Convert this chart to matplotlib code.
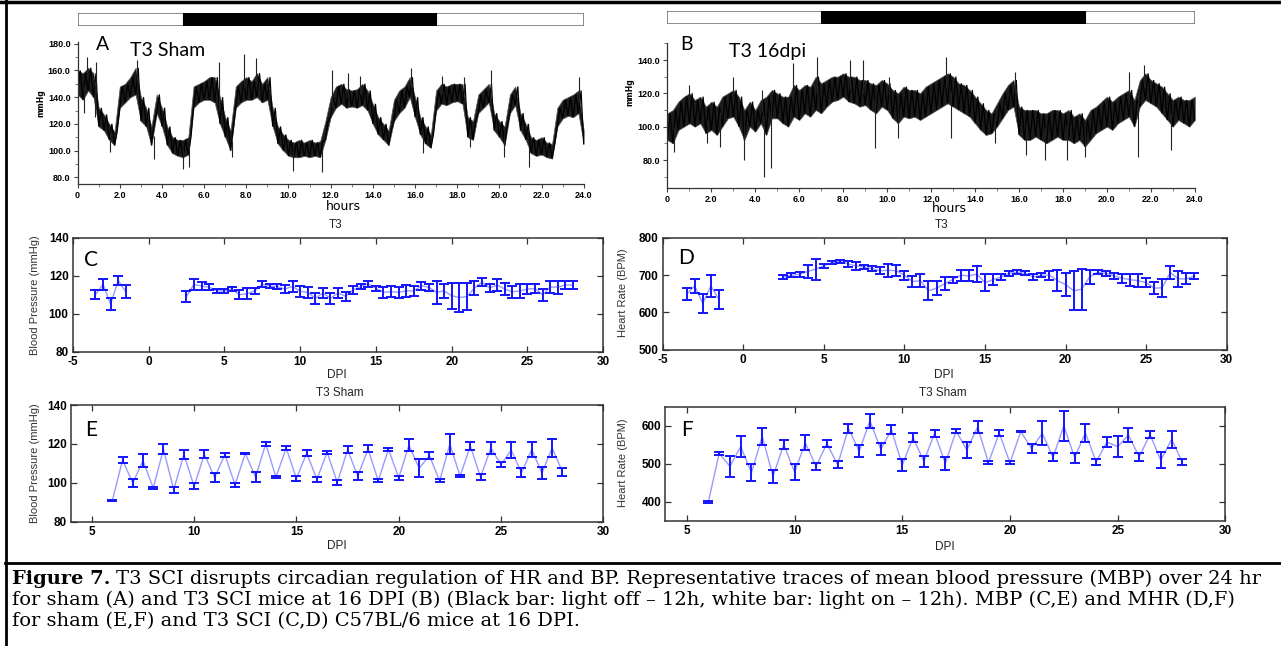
import numpy as np
import matplotlib
matplotlib.use('Agg')
import matplotlib.pyplot as plt
from matplotlib.patches import Rectangle
from matplotlib.lines import Line2D
from matplotlib.ticker import MultipleLocator

W, H = 1281, 646

# %%
# 24 h mean blood pressure traces, read off in 0.25 h bins (band low / high)
hours = [i * 0.25 for i in range(97)]

a_lo = [142, 138, 145, 140, 118, 115, 108, 104, 132, 136, 140, 142, 122, 118, 104, 128,
        118, 104, 98, 96, 95, 97, 132, 136, 138, 138, 136, 120, 110, 100, 132, 136,
        138, 138, 140, 136, 138, 118, 105, 100, 96, 95, 95, 96, 95, 96, 95, 108,
        125, 132, 135, 132, 133, 132, 134, 130, 120, 112, 108, 104, 122, 128, 132, 140,
        125, 112, 105, 102, 130, 135, 134, 136, 137, 135, 110, 108, 128, 132, 136, 115,
        110, 104, 128, 134, 115, 108, 98, 96, 97, 95, 94, 118, 124, 126, 125, 128, 105]
a_hi = [160, 158, 162, 158, 132, 127, 120, 114, 148, 150, 155, 162, 140, 132, 118, 142,
        132, 118, 110, 108, 108, 110, 148, 150, 152, 155, 155, 140, 125, 115, 148, 152,
        155, 152, 158, 150, 155, 132, 118, 112, 108, 106, 108, 106, 108, 106, 107, 122,
        140, 148, 150, 146, 145, 146, 150, 145, 135, 125, 120, 115, 138, 145, 148, 155,
        140, 125, 118, 112, 145, 150, 148, 150, 150, 150, 125, 122, 142, 146, 150, 128,
        122, 118, 142, 148, 128, 120, 110, 108, 110, 106, 105, 132, 138, 140, 142, 145, 115]
a_spike_t = [0.3, 0.43, 0.83, 0.85, 1.55, 2.8, 3.6, 5.0, 5.3, 6.7, 7.3, 7.9, 8.45, 10.2,
             11.6, 12.05, 12.8, 13.4, 15.8, 16.4, 17.3, 18.3, 18.6, 19.6, 20.2, 21.4, 23.8]
a_spike_v = [128, 170, 125, 166, 99, 168, 94, 86, 88, 166, 95, 172, 169, 85,
             84, 160, 158, 156, 162, 98, 156, 155, 103, 160, 95, 88, 155]

b_lo = [92, 90, 98, 100, 102, 100, 102, 96, 98, 95, 100, 105, 106, 100, 92, 100,
        97, 102, 95, 105, 105, 102, 100, 106, 104, 108, 106, 110, 108, 112, 115, 116,
        118, 115, 114, 112, 113, 110, 108, 112, 110, 105, 102, 106, 105, 106, 104, 106,
        108, 110, 112, 114, 112, 110, 108, 106, 102, 98, 95, 96, 100, 105, 110, 112,
        95, 92, 92, 94, 92, 90, 92, 94, 92, 92, 90, 92, 88, 92, 96, 98,
        100, 98, 102, 104, 106, 100, 112, 116, 114, 112, 108, 104, 100, 104, 102, 100, 104]
b_hi = [108, 110, 115, 118, 120, 116, 118, 112, 115, 112, 118, 120, 122, 118, 110, 115,
        110, 116, 118, 122, 120, 118, 118, 125, 122, 125, 124, 130, 126, 128, 130, 130,
        132, 130, 130, 128, 128, 126, 125, 128, 126, 122, 120, 124, 122, 122, 120, 124,
        126, 128, 130, 132, 130, 126, 125, 122, 118, 114, 110, 108, 114, 120, 125, 128,
        112, 110, 110, 110, 108, 108, 110, 110, 108, 110, 106, 108, 104, 110, 112, 115,
        118, 115, 118, 120, 122, 116, 128, 132, 128, 126, 124, 120, 116, 118, 116, 116, 118]
b_spike_t = [0.3, 1.0, 1.8, 2.4, 3.0, 3.5, 4.3, 4.4, 4.7, 5.7, 6.8, 8.3, 8.9, 9.45,
             10.1, 10.5, 12.7, 12.9, 14.9, 15.8, 16.3, 17.2, 18.2, 19.0, 21.0, 21.4, 21.7, 22.9]
b_spike_v = [85, 125, 90, 88, 130, 80, 122, 70, 75, 138, 142, 140, 140, 87,
             130, 93, 142, 93, 90, 133, 83, 80, 80, 82, 133, 82, 137, 86]

# %%
# Daily means +/- error, by days post injury
pre_dpi = [-3.5, -3.0, -2.5, -2.0, -1.5]
post_dpi = [2.5, 3.0, 3.5, 4.0, 4.5, 5.0, 5.5, 6.0, 6.5, 7.0, 7.5, 8.0, 8.5, 9.0,
            9.5, 10.0, 10.5, 11.0, 11.5, 12.0, 12.5, 13.0, 13.5, 14.0, 14.5, 15.0,
            15.5, 16.0, 16.5, 17.0, 17.5, 18.0, 18.5, 19.0, 19.5, 20.0, 20.5, 21.0,
            21.5, 22.0, 22.5, 23.0, 23.5, 24.0, 24.5, 25.0, 25.5, 26.0, 26.5, 27.0,
            27.5, 28.0]
sham_dpi = [6.0, 6.5, 7.0, 7.5, 8.0, 8.5, 9.0, 9.5, 10.0, 10.5, 11.0, 11.5, 12.0,
            12.5, 13.0, 13.5, 14.0, 14.5, 15.0, 15.5, 16.0, 16.5, 17.0, 17.5, 18.0,
            18.5, 19.0, 19.5, 20.0, 20.5, 21.0, 21.5, 22.0, 22.5, 23.0, 23.5, 24.0,
            24.5, 25.0, 25.5, 26.0, 26.5, 27.0, 27.5, 28.0]

c_pre = [110, 115.5, 105, 117.5, 111.5]
c_pre_err = [2.5, 3, 3, 2.5, 3.5]
c_post = [109, 115.5, 114.5, 114, 112, 112, 113, 110, 110.5, 112,
          115.5, 114.5, 114.4, 112.9, 114.4, 111.8, 111.2, 108.1, 110.9, 108.1,
          110.9, 109.2, 112.6, 114.4, 115.7, 113.3, 111.3, 111.6, 111.3, 112,
          112, 114.7, 113.9, 111.2, 112, 109.5, 108.5, 109, 113.5, 116.6,
          113.6, 115, 113, 111.5, 112, 113, 113.2, 109.9, 114, 114, 115.1, 115]
c_post_err = [3, 3, 2, 1.5, 1, 1, 1.3, 2.5, 3, 1.7,
              1.7, 1.2, 1.3, 2.2, 2.8, 2.8, 3, 3, 2.8, 3,
              2.8, 2.4, 2, 1.3, 1.5, 1.3, 2.8, 3, 2.8, 3,
              2.6, 2.2, 1.8, 6, 3.5, 6.8, 7.5, 7.3, 3.5, 2,
              2, 3, 2.9, 3, 3.8, 2.5, 2.4, 3, 3.2, 3.4, 2.1, 2.1]

d_pre = [649, 671, 624, 671, 635]
d_pre_err = [16, 20, 25, 29, 25]
d_post = [695, 700, 702, 710, 716, 725, 733, 737, 730, 725,
          722, 718, 712, 713, 712, 700, 683, 685, 658, 665,
          677, 688, 700, 698, 703, 680, 688, 695, 705, 708,
          705, 695, 700, 700, 685, 675, 658, 662, 695, 708,
          705, 698, 692, 688, 685, 680, 665, 666, 707, 690, 690, 698]
d_post_err = [5, 6, 6, 18, 28, 6, 4, 4, 8, 10,
              6, 8, 10, 18, 15, 12, 16, 18, 25, 18,
              18, 8, 15, 15, 22, 22, 15, 8, 6, 5,
              5, 8, 5, 12, 28, 32, 52, 55, 18, 6,
              6, 8, 12, 16, 18, 12, 16, 24, 17, 22, 15, 8]

e_bp = [90.8, 111.7, 99.9, 111.4, 97.3, 117.3, 96.5, 114.5, 98.2, 114.7,
        102.7, 114.5, 99, 115.1, 103, 120, 102.9, 117.9, 102.2, 115.3,
        101.8, 115.7, 100.1, 117, 103.4, 117.4, 101, 117.3, 102.5, 119.4,
        107.4, 114, 101, 119.9, 103.4, 118.9, 102.9, 117.9, 109.4, 116.8,
        105.1, 117.1, 105, 117.9, 105.7]
e_err = [0.3, 1.7, 1.9, 3.4, 0.7, 2.5, 1.5, 2.3, 1.5, 2.1,
         2.5, 1, 1, 0.4, 2.7, 1, 0.6, 1, 1.3, 1.4,
         1.4, 0.9, 1.3, 1.9, 2, 1.8, 0.8, 0.8, 1, 2.9,
         4.6, 2, 0.7, 5.1, 0.6, 2.1, 1.5, 3.1, 1.5, 4.2,
         2.3, 3.9, 2.9, 4.4, 2.1]

f_hr = [400, 527, 493, 545, 476, 572, 467, 550, 478, 555,
        493, 553, 497, 593, 533, 613, 538, 589, 496, 569,
        506, 580, 501, 586, 536, 597, 502, 581, 502, 585,
        540, 580, 517, 600, 516, 581, 505, 557, 545, 575,
        518, 577, 509, 564, 504]
f_err = [3, 5, 28, 27, 22, 22, 17, 12, 20, 20,
         9, 9, 9, 11, 15, 18, 16, 12, 16, 12,
         15, 9, 17, 6, 22, 15, 4, 8, 4, 2,
         12, 32, 11, 40, 13, 24, 8, 13, 27, 18,
         11, 9, 21, 22, 8]

caption = [
    "T3 SCI disrupts circadian regulation of HR and BP. Representative traces of mean blood pressure (MBP) over 24 hr",
    "for sham (A) and T3 SCI mice at 16 DPI (B) (Black bar: light off \u2013 12h, white bar: light on \u2013 12h). MBP (C,E) and MHR (D,F)",
    "for sham (E,F) and T3 SCI (C,D) C57BL/6 mice at 16 DPI.",
]

# %%
fig = plt.figure(figsize=(W / 100, H / 100), dpi=100)


def add_ax(left, top, right, bottom):
    """Axes from pixel edges of the reference picture."""
    return fig.add_axes([left / W, 1 - bottom / H, (right - left) / W, (bottom - top) / H])


def ftext(x, y, s, **kw):
    return fig.text(x / W, 1 - y / H, s, **kw)


tick_font = dict(family='Liberation Sans', weight='bold')


def trace_panel(ax, lo, hi, spike_t, spike_v, ylim, yticks):
    # dark band between the low and high readings, with a zigzag through each bin
    t = np.array(hours)
    ax.fill_between(t, lo, hi, color='#1c1c1c', lw=0.5, ec='#555555')
    t2 = np.column_stack([t, t + 0.125]).ravel()[:-1]
    y2 = np.column_stack([lo, hi]).ravel()[:-1]
    ax.plot(t2, y2, color='black', lw=0.9, solid_joinstyle='miter')
    idx = np.rint(np.array(spike_t) / 0.25).astype(int)
    base = (np.array(lo)[idx] + np.array(hi)[idx]) / 2
    ax.vlines(spike_t, base, spike_v, color='#222222', lw=0.8)
    ax.set_xlim(0, 24)
    ax.set_ylim(*ylim)
    ax.set_xticks(range(0, 25, 2))
    ax.set_xticklabels(['0'] + [f'{v:.1f}' for v in range(2, 25, 2)], fontsize=6.5, **tick_font)
    ax.set_yticks(yticks)
    ax.set_yticklabels([f'{v:.1f}' for v in yticks], fontsize=6.5, **tick_font)
    ax.xaxis.set_minor_locator(MultipleLocator(1))
    ax.yaxis.set_minor_locator(MultipleLocator(10))
    ax.tick_params(which='major', length=3, width=0.8, pad=2, color='#444444')
    ax.tick_params(which='minor', length=2, width=0.6, color='#666666')
    for s in ('top', 'right'):
        ax.spines[s].set_visible(False)
    for s in ('left', 'bottom'):
        ax.spines[s].set_color('#333333')
        ax.spines[s].set_linewidth(0.9)


def light_bar(left, top, right, bottom, dark_on, dark_off):
    ax = add_ax(left, top, right, bottom)
    ax.set_xlim(0, 24)
    ax.set_ylim(0, 1)
    ax.add_patch(Rectangle((0, 0), 24, 1, fc='white', ec='#777777', lw=1.2))
    ax.add_patch(Rectangle((dark_on, 0), dark_off - dark_on, 1, fc='black', ec='black', lw=0.8))
    ax.axis('off')


def dpi_panel(ax, xlim, xticks, ylim, yticks):
    ax.set_xlim(*xlim)
    ax.set_ylim(*ylim)
    ax.set_xticks(xticks)
    ax.set_yticks(yticks)
    ax.set_xticklabels([str(v) for v in xticks], fontsize=8.5, **tick_font)
    ax.set_yticklabels([str(v) for v in yticks], fontsize=8.5, **tick_font)
    ax.tick_params(direction='in', top=True, right=True, length=4, width=0.9,
                   pad=3, color='#333333')
    for s in ax.spines.values():
        s.set_color('#333333')
        s.set_linewidth(1.1)


def bars(ax, x, y, err):
    ax.plot(x, y, color='#9a9aff', lw=1.0, zorder=2)
    ax.errorbar(x, y, yerr=err, fmt='none', ecolor='#1414ff', elinewidth=1.4,
                capsize=3.6, capthick=1.4, zorder=3)


# %%
# Panel A and B: 24 h traces
axA = add_ax(77.6, 42, 583.7, 184.3)
trace_panel(axA, a_lo, a_hi, a_spike_t, a_spike_v, (74.75, 181.3), [80, 100, 120, 140, 160, 180])
light_bar(77.6, 13.3, 583.7, 26, 5, 17)

axB = add_ax(667.4, 43, 1194.8, 188)
trace_panel(axB, b_lo, b_hi, b_spike_t, b_spike_v, (63.2, 150.2), [80, 100, 120, 140])
light_bar(667.4, 11, 1194.8, 24.3, 7, 19)

ftext(103, 44, 'A', fontsize=14, family='Lato', ha='center', va='center')
ftext(168, 51, 'T3 Sham', fontsize=14, family='Lato', ha='center', va='center')
ftext(687, 44, 'B', fontsize=14, family='Lato', ha='center', va='center')
ftext(768, 52, 'T3 16dpi', fontsize=14, family='Lato', ha='center', va='center')
ftext(343, 206, 'hours', fontsize=9, ha='center', va='center')
ftext(949, 209, 'hours', fontsize=9, ha='center', va='center')
ftext(41, 103, 'mmHg', fontsize=5.5, weight='bold', rotation=90, ha='center', va='center')
ftext(630, 92, 'mmHg', fontsize=5.5, weight='bold', rotation=90, ha='center', va='center')

# %%
# Panels C and D: T3 SCI
axC = add_ax(72.7, 237.7, 603.3, 351.7)
bars(axC, pre_dpi, c_pre, c_pre_err)
bars(axC, post_dpi, c_post, c_post_err)
dpi_panel(axC, (-5, 30), [-5, 0, 5, 10, 15, 20, 25, 30], (80, 140), [80, 100, 120, 140])

axD = add_ax(662.5, 238, 1226.7, 349.5)
bars(axD, pre_dpi, d_pre, d_pre_err)
bars(axD, post_dpi, d_post, d_post_err)
dpi_panel(axD, (-5, 30), [-5, 0, 5, 10, 15, 20, 25, 30], (500, 800), [500, 600, 700, 800])

# Panels E and F: sham
axE = add_ax(71.4, 405, 603.3, 521.7)
bars(axE, sham_dpi, e_bp, e_err)
dpi_panel(axE, (4, 30), [5, 10, 15, 20, 25, 30], (80, 140), [80, 100, 120, 140])

axF = add_ax(665.3, 406.7, 1225.4, 520.7)
bars(axF, sham_dpi, f_hr, f_err)
dpi_panel(axF, (4, 30), [5, 10, 15, 20, 25, 30], (350, 650), [400, 500, 600])

lab = dict(fontsize=8.5, family='Liberation Sans', color='#222222', ha='center', va='center')
for x, y, s in [(336, 225, 'T3'), (942, 225, 'T3'),
                (337, 375, 'DPI'), (944, 375, 'DPI'),
                (340, 393, 'T3 Sham'), (943, 393, 'T3 Sham'),
                (337, 546, 'DPI'), (945, 547, 'DPI')]:
    ftext(x, y, s, **lab)
ylab = dict(fontsize=8, family='Liberation Sans', color='#333333', rotation=90, ha='center', va='center')
ftext(35, 295, 'Blood Pressure (mmHg)', **ylab)
ftext(623, 293, 'Heart Rate (BPM)', **ylab)
ftext(35, 463, 'Blood Pressure (mmHg)', **ylab)
ftext(623, 463, 'Heart Rate (BPM)', **ylab)

for x, y, s in [(91, 260, 'C'), (686, 258, 'D'), (91, 430, 'E'), (687, 430, 'F')]:
    ftext(x, y, s, fontsize=15, family='Lato', ha='center', va='center')

# %%
# Frame and caption
fig.add_artist(Line2D([6 / W, 6 / W], [0, 1], color='black', lw=2))
fig.add_artist(Line2D([0, 1], [1 - 2 / H, 1 - 2 / H], color='black', lw=2.5))
fig.add_artist(Line2D([5 / W, 1], [1 - 563 / H, 1 - 563 / H], color='black', lw=2))

cap = dict(fontsize=14.0, family='DejaVu Serif', va='center', ha='left')
head = ftext(12, 579, 'Figure 7.', weight='bold', **cap)
bb = head.get_window_extent(fig.canvas.get_renderer())
ftext(bb.x1 + 6, 579, caption[0], **cap)
ftext(12, 600, caption[1], **cap)
ftext(12, 621, caption[2], **cap)

fig.savefig('out.png', dpi=100)
